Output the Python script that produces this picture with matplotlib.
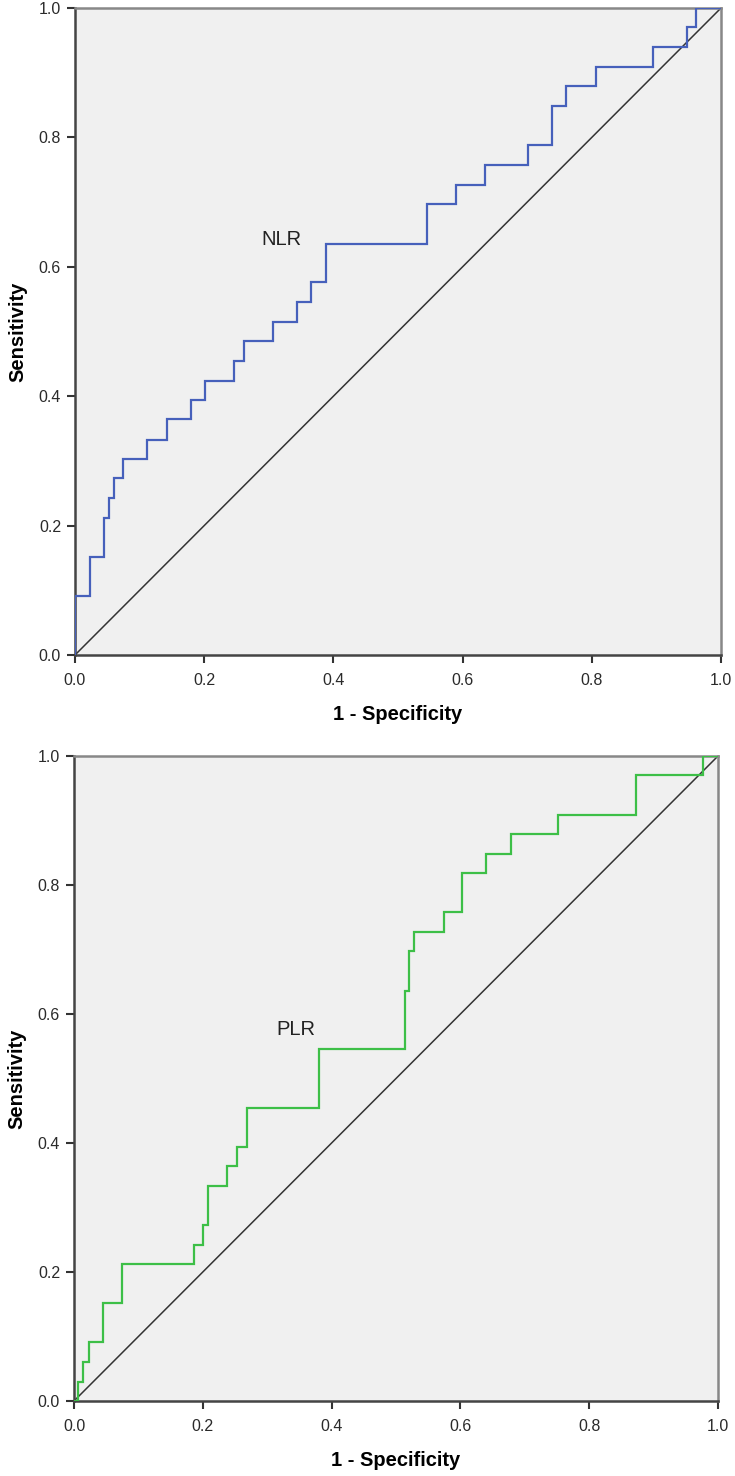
import matplotlib
matplotlib.use('Agg')
import matplotlib.pyplot as plt

plt.rcParams['font.family'] = ['Liberation Sans', 'DejaVu Sans']

# ROC step points (1 - specificity, sensitivity)
nlr_fpr = [0.0, 0.0, 0.023, 0.023, 0.045, 0.045, 0.053, 0.053, 0.060, 0.060,
           0.075, 0.075, 0.112, 0.112, 0.142, 0.142, 0.179, 0.179, 0.201, 0.201,
           0.246, 0.246, 0.261, 0.261, 0.306, 0.306, 0.344, 0.344, 0.366, 0.366,
           0.388, 0.388, 0.545, 0.545, 0.590, 0.590, 0.634, 0.634, 0.701, 0.701,
           0.738, 0.738, 0.760, 0.760, 0.806, 0.806, 0.895, 0.895, 0.947, 0.947,
           0.962, 0.962, 1.0]
nlr_tpr = [0.0, 0.091, 0.091, 0.152, 0.152, 0.212, 0.212, 0.242, 0.242, 0.273,
           0.273, 0.303, 0.303, 0.333, 0.333, 0.364, 0.364, 0.394, 0.394, 0.424,
           0.424, 0.455, 0.455, 0.485, 0.485, 0.515, 0.515, 0.545, 0.545, 0.576,
           0.576, 0.636, 0.636, 0.697, 0.697, 0.727, 0.727, 0.758, 0.758, 0.788,
           0.788, 0.848, 0.848, 0.879, 0.879, 0.909, 0.909, 0.939, 0.939, 0.970,
           0.970, 1.0, 1.0]

plr_fpr = [0.0, 0.006, 0.006, 0.014, 0.014, 0.023, 0.023, 0.045, 0.045, 0.074,
           0.074, 0.186, 0.186, 0.201, 0.201, 0.208, 0.208, 0.238, 0.238, 0.253,
           0.253, 0.269, 0.269, 0.380, 0.380, 0.514, 0.514, 0.520, 0.520, 0.528,
           0.528, 0.574, 0.574, 0.603, 0.603, 0.640, 0.640, 0.678, 0.678, 0.752,
           0.752, 0.872, 0.872, 0.977, 0.977, 1.0]
plr_tpr = [0.0, 0.0, 0.030, 0.030, 0.061, 0.061, 0.091, 0.091, 0.152, 0.152,
           0.212, 0.212, 0.242, 0.242, 0.273, 0.273, 0.333, 0.333, 0.364, 0.364,
           0.394, 0.394, 0.455, 0.455, 0.545, 0.545, 0.636, 0.636, 0.697, 0.697,
           0.727, 0.727, 0.758, 0.758, 0.818, 0.818, 0.848, 0.848, 0.879, 0.879,
           0.909, 0.909, 0.970, 0.970, 1.0, 1.0]

W, H = 735, 1476
fig = plt.figure(figsize=(W / 100, H / 100), dpi=100)

# axes rectangles in pixels: left, top, right, bottom
boxes = [(75, 8, 721, 655), (74, 756, 718, 1401)]
curves = [(nlr_fpr, nlr_tpr, '#4660bb', 'NLR', (0.32, 0.642)),
          (plr_fpr, plr_tpr, '#3dbf47', 'PLR', (0.345, 0.576))]

ticks = [0.0, 0.2, 0.4, 0.6, 0.8, 1.0]
for (l, t, r, b), (fx, ty, col, name, pos) in zip(boxes, curves):
    ax = fig.add_axes([l / W, 1 - b / H, (r - l) / W, (b - t) / H])
    ax.set_facecolor('#f0f0f0')
    ax.plot([0, 1], [0, 1], color='#333333', lw=1.1, zorder=2)
    ax.plot(fx, ty, color=col, lw=1.6, zorder=3, solid_joinstyle='miter')
    ax.text(pos[0], pos[1], name, ha='center', va='center', fontsize=14.5, color='#222222')
    ax.set_xlim(0, 1)
    ax.set_ylim(0, 1)
    ax.set_xticks(ticks)
    ax.set_yticks(ticks)
    ax.set_xticklabels(['%.1f' % v for v in ticks])
    ax.set_yticklabels(['%.1f' % v for v in ticks])
    ax.tick_params(direction='out', length=6, width=1.5, color='#333333',
                   labelsize=11.5, labelcolor='#2a2a2a')
    ax.tick_params(axis='x', pad=7)
    ax.tick_params(axis='y', pad=4)
    for s in ['left', 'bottom']:
        ax.spines[s].set_color('#444444')
        ax.spines[s].set_linewidth(1.8)
    for s in ['top', 'right']:
        ax.spines[s].set_color('#888888')
        ax.spines[s].set_linewidth(1.8)
    ax.set_xlabel('1 - Specificity', fontsize=14.5, fontweight='bold', labelpad=12)
    ax.set_ylabel('Sensitivity', fontsize=14.5, fontweight='bold', labelpad=8)

fig.savefig('out.png', dpi=100, facecolor='white')
